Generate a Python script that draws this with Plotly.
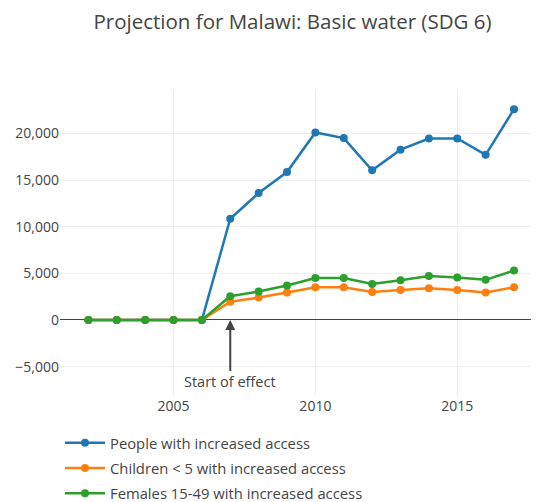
import plotly.graph_objects as go

years = list(range(2002, 2018))
people = [0, 0, 0, 0, 0, 10850, 13600, 15850, 20100, 19500, 16050, 18250, 19450, 19450, 17700, 22600]
children = [0, 0, 0, 0, 0, 1960, 2400, 2950, 3500, 3500, 3000, 3200, 3400, 3200, 2950, 3500]
females = [0, 0, 0, 0, 0, 2550, 3050, 3700, 4500, 4500, 3850, 4250, 4700, 4550, 4300, 5300]
series_names = ["People with increased access", "Children < 5 with increased access",
                "Females 15-49 with increased access"]
colors = ["#1f77b4", "#ff7f0e", "#2ca02c"]

W, H = 531, 494

fig = go.Figure()
for i, (name, vals) in enumerate(zip(series_names, [people, children, females])):
    fig.add_trace(go.Scatter(
        x=years, y=vals, mode="lines+markers", name=name,
        line=dict(color=colors[i], width=2.5),
        marker=dict(color=colors[i], size=8),
        legendgroup=f"g{i}",
    ))

fig.add_annotation(
    x=2007, y=0, xref="x", yref="y", text="Start of effect",
    showarrow=True, arrowhead=2, arrowsize=1, arrowwidth=2, arrowcolor="#444",
    ax=0, ay=62, font=dict(size=14.5, color="#444"),
)

fig.update_layout(
    width=W, height=H,
    title=dict(text="Projection for Malawi: Basic water (SDG 6)", x=284.5 / W, xanchor="center",
               y=1 - 14 / H, yanchor="middle", font=dict(size=20.5, color="#444")),
    font=dict(family="Open Sans", size=14, color="#444"),
    margin=dict(l=52, r=0, t=82, b=106, autoexpand=False),
    paper_bgcolor="white", plot_bgcolor="white",
    showlegend=True,
    legend=dict(orientation="v", x=0.0, xanchor="left", y=-0.1, yanchor="top",
                font=dict(size=14.8), traceorder="grouped", tracegroupgap=3, itemwidth=40),
    xaxis=dict(range=[2001.0, 2017.88], tickvals=[2005, 2010, 2015], ticktext=["2005", "2010", "2015"],
               showgrid=True, gridcolor="#eee", zeroline=False, showline=False, ticks=""),
    yaxis=dict(range=[-8150, 24650], tickvals=[-5000, 0, 5000, 10000, 15000, 20000],
               tickformat=",", showgrid=True, gridcolor="#eee", zeroline=True,
               zerolinecolor="#444", zerolinewidth=1.3, showline=False, ticks=""),
)

fig.write_html("out.html")
